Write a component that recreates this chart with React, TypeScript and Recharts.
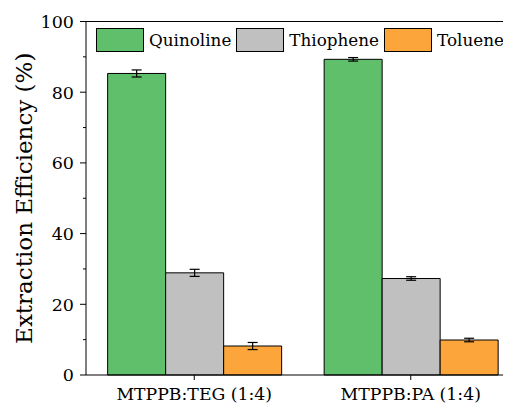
import React from "react";
import { BarChart, Bar, XAxis, YAxis, Legend, ErrorBar, ReferenceLine } from "recharts";

const categories = ["MTPPB:TEG (1:4)", "MTPPB:PA (1:4)"];
const quinoline = [85.3, 89.3];
const quinolineErr = [1.0, 0.5];
const thiophene = [28.9, 27.3];
const thiopheneErr = [1.0, 0.5];
const toluene = [8.2, 9.9];
const tolueneErr = [1.0, 0.5];
const yTicks = [0, 10, 20, 30, 40, 50, 60, 70, 80, 90, 100];

const FONT = "'DejaVu Serif', serif";

const series = [
  { key: "quinoline", name: "Quinoline", color: "#60BF6A" },
  { key: "thiophene", name: "Thiophene", color: "#C0C0C0" },
  { key: "toluene", name: "Toluene", color: "#FBA53B" },
];

const data = categories.map((c, i) => ({
  name: c,
  quinoline: quinoline[i],
  quinolineErr: quinolineErr[i],
  thiophene: thiophene[i],
  thiopheneErr: thiopheneErr[i],
  toluene: toluene[i],
  tolueneErr: tolueneErr[i],
}));

const YTick = (props: any) => {
  const { x, y, payload } = props;
  const major = payload.value % 20 === 0;
  return (
    <g>
      <line x1={x} x2={x - (major ? 6 : 3)} y1={y} y2={y} stroke="#000" strokeWidth={1} />
      {major && (
        <text x={x - 12} y={y} dy="0.36em" textAnchor="end" fontFamily={FONT} fontSize={17.5} fill="#000">
          {payload.value}
        </text>
      )}
    </g>
  );
};

const LegendContent = () => (
  <div style={{ display: "flex", alignItems: "center", fontFamily: FONT, fontSize: 16.8, whiteSpace: "nowrap" }}>
    {series.map((s) => (
      <div key={s.key} style={{ display: "flex", alignItems: "center", marginRight: 5, flexShrink: 0 }}>
        <div
          style={{
            width: 48,
            height: 24,
            boxSizing: "border-box",
            background: s.color,
            border: "1px solid #000",
            marginRight: 5,
            flexShrink: 0,
          }}
        />
        <span>{s.name}</span>
      </div>
    ))}
  </div>
);

export default function App() {
  return (
    <div style={{ width: 503, height: 398, overflow: "hidden" }}>
      <BarChart
        width={511}
        height={398}
        data={data}
        margin={{ top: 13.5, right: 0, bottom: 0, left: 0 }}
        barCategoryGap="10%"
        barGap={0}
      >
        <XAxis
          dataKey="name"
          axisLine={{ stroke: "#000", strokeWidth: 1 }}
          tickLine={{ stroke: "#000" }}
          tickSize={5}
          tickMargin={8}
          height={31}
          tick={{ fontFamily: FONT, fontSize: 17.3, fill: "#000" }}
        />
        <YAxis
          domain={[0, 100]}
          ticks={yTicks}
          interval={0}
          width={78}
          axisLine={{ stroke: "#000", strokeWidth: 1 }}
          tickLine={false}
          tickSize={0}
          tickMargin={0}
          tick={<YTick />}
          label={{
            value: "Extraction Efficiency (%)",
            angle: -90,
            position: "insideLeft",
            offset: 0,
            dx: 16,
            style: { fontFamily: FONT, fontSize: 23, fill: "#000", textAnchor: "middle" },
          }}
        />
        <ReferenceLine y={100} stroke="#000" strokeWidth={1} />
        <Legend
          layout="horizontal"
          verticalAlign="middle"
          align="center"
          content={<LegendContent />}
          wrapperStyle={{ top: 20, left: 88, width: 430 }}
        />
        {series.map((s) => (
          <Bar
            key={s.key}
            dataKey={s.key}
            name={s.name}
            fill={s.color}
            stroke="#000"
            strokeWidth={1}
            isAnimationActive={false}
          >
            <ErrorBar dataKey={`${s.key}Err`} width={5} stroke="#000" strokeWidth={1.2} direction="y" />
          </Bar>
        ))}
      </BarChart>
    </div>
  );
}
